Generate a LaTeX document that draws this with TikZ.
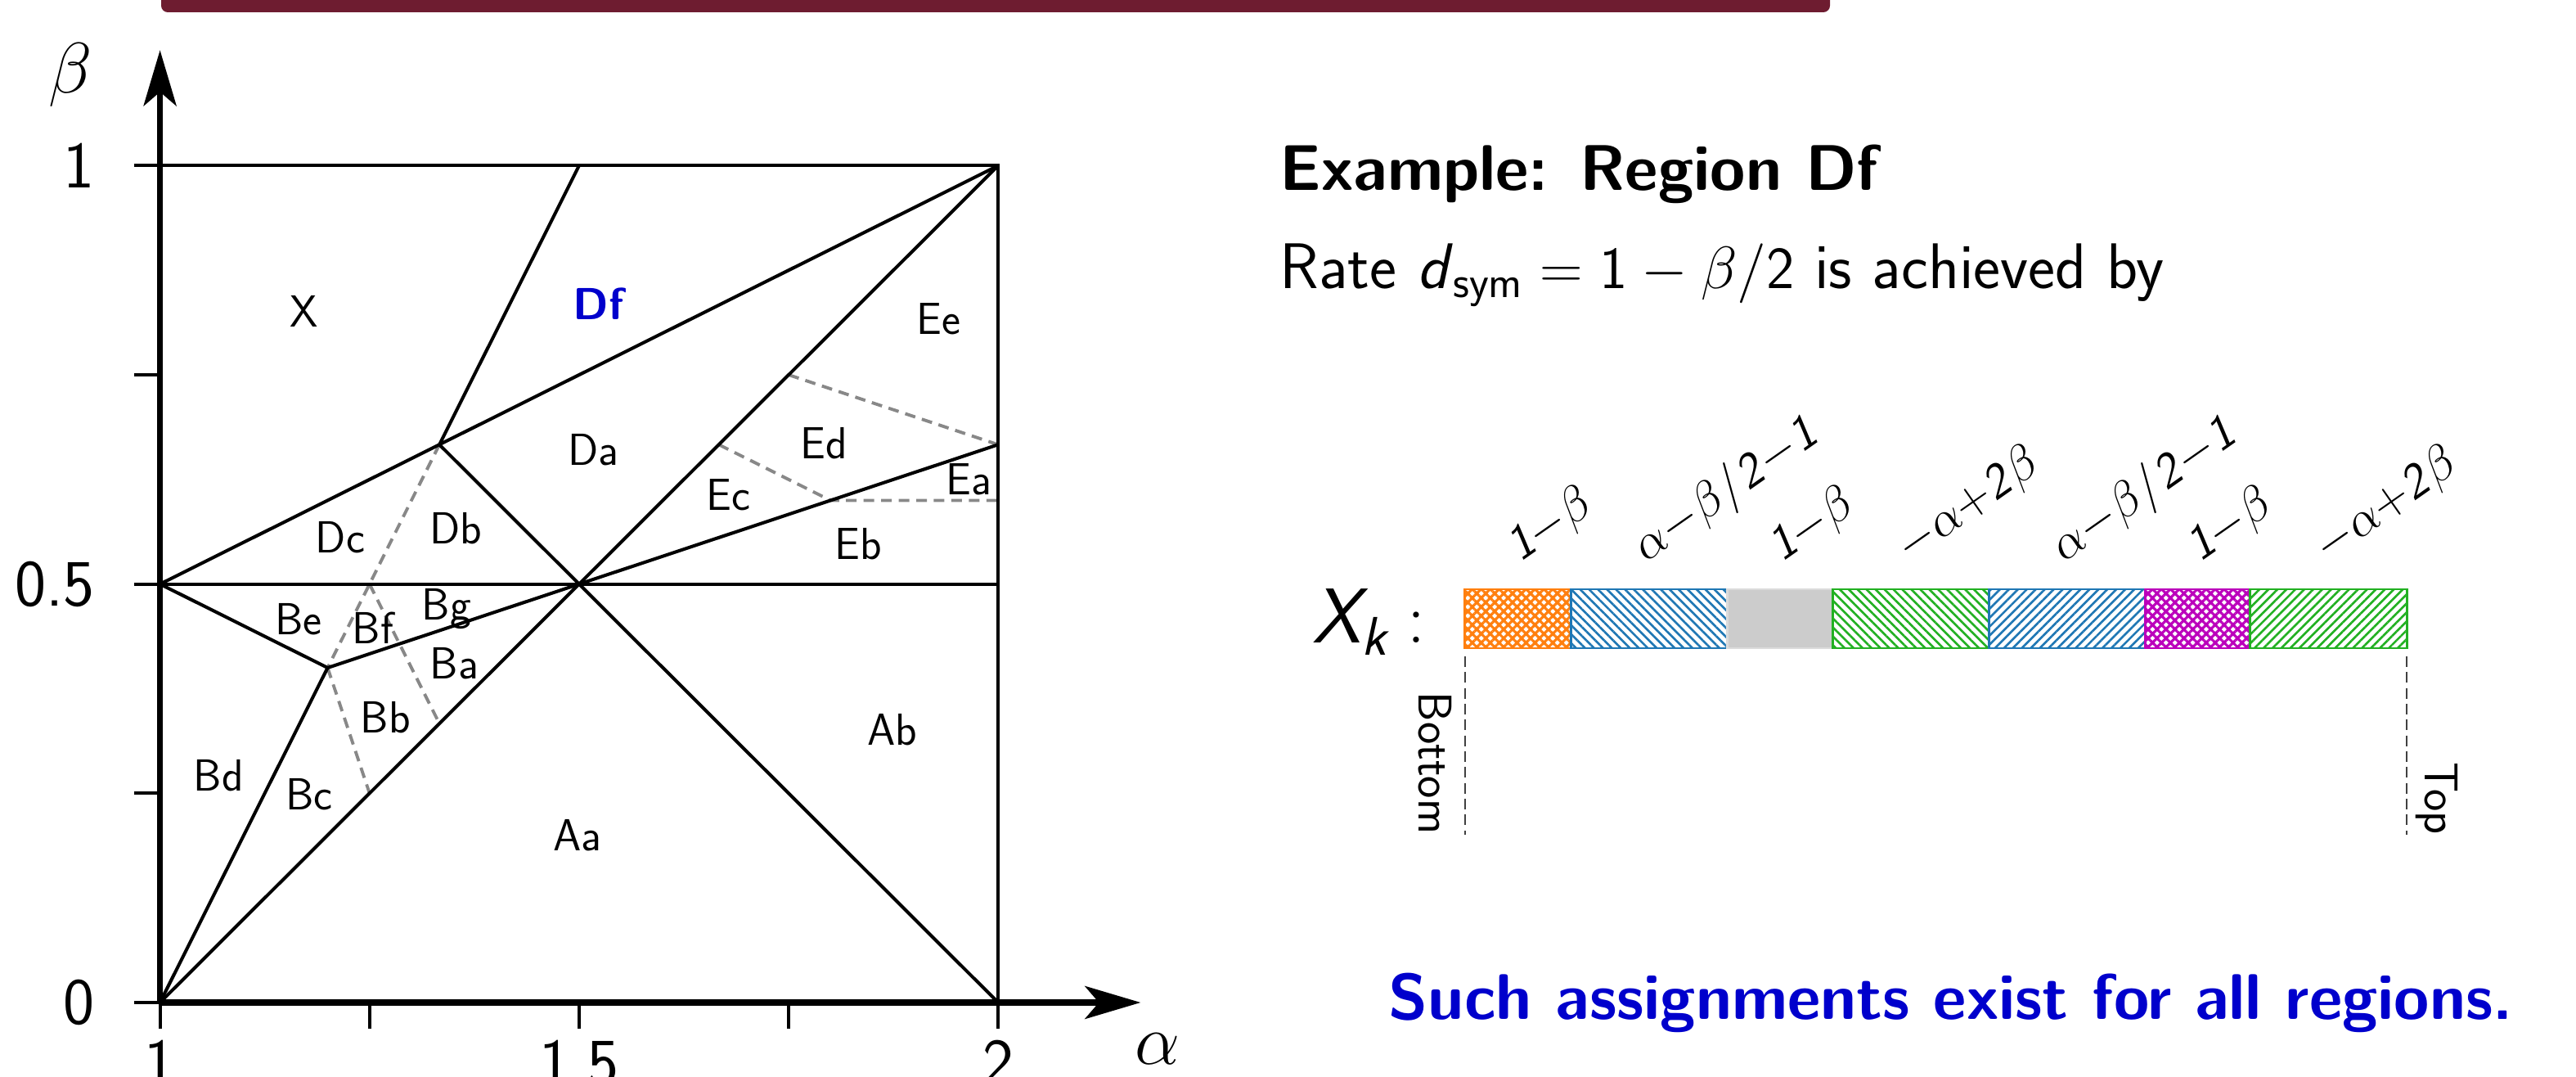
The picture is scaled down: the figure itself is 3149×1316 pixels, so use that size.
\documentclass[tikz,border=0pt]{standalone}
\usepackage{amsmath}
\usetikzlibrary{arrows.meta,patterns.meta}
\definecolor{barred}{HTML}{6E1C30}
\definecolor{regblue}{HTML}{0000CC}
\definecolor{segorange}{HTML}{FF7F0E}
\definecolor{segblue}{HTML}{1F77B4}
\definecolor{seggreen}{HTML}{22B022}
\definecolor{segmag}{HTML}{BB00BB}
\definecolor{seggray}{HTML}{CCCCCC}
\definecolor{dashgray}{HTML}{888888}
\newcommand\fsz[1]{\fontsize{#1}{#1}\selectfont}
\newcommand\slt[1]{\textit{#1}}
\tikzset{
  region/.style={font=\fsz{15.6pt}\sffamily, inner sep=0pt},
  ticklab/.style={font=\fsz{23pt}\sffamily, inner sep=0pt},
  axlab/.style={font=\fsz{29pt}, inner sep=0pt},
  pline/.style={line width=1.15pt},
  dline/.style={dashgray, line width=1.1pt, dash pattern=on 3.7pt off 2.4pt},
  axisline/.style={line width=2pt, -{Stealth[length=6.8mm,width=4mm,inset=1.7mm]}},
  tickline/.style={line width=1.1pt},
  seglab/.style={font=\fsz{17pt}\sffamily, rotate=35, anchor=base west, inner sep=0pt},
  segbox/.style={line width=0.85pt},
  hatchx/.style={pattern={Hatch[angle=45,distance=2.2pt,line width=0.9pt]}},
  linesne/.style={pattern={Lines[angle=45,distance=2.2pt,line width=0.75pt]}},
  linesnw/.style={pattern={Lines[angle=-45,distance=2.2pt,line width=0.75pt]}},
  endline/.style={black!75, line width=0.6pt, dash pattern=on 3.7pt off 1.8pt},
  endlab/.style={font=\fsz{16.5pt}\sffamily, rotate=-90, inner sep=0pt},
  bigtext/.style={font=\fsz{22.4pt}\sffamily, inner sep=0pt, anchor=base west},
}
\begin{document}
\begin{tikzpicture}[x=0.01cm, y=-0.01cm]
\useasboundingbox (0,0) rectangle (3149,1316);
\clip (0,0) rectangle (3149,1316);

% top bar
\fill[barred, rounded corners=2.3pt] (197,-30) rectangle (2237,15);

% ---------------- plot ----------------
\begin{scope}[shift={(-829,1225)}, x=10.24cm, y=10.22cm]
  \coordinate (O) at (1,0);
  \coordinate (P) at (1.5,0.5);
  \coordinate (L) at (1,0.5);
  \coordinate (Q) at (1.2,0.4);
  \coordinate (R) at (4/3,2/3);
  \coordinate (T) at (2,1);
  \coordinate (TL) at (1,1);
  \coordinate (TM) at (1.5,1);
  \coordinate (BR) at (2,0);
  \coordinate (MR) at (2,0.5);
  \coordinate (E1) at (2,2/3);
  \coordinate (S) at (1.8,0.6);
  \coordinate (Mh) at (1.25,0.5);
  \coordinate (Ba1) at (4/3,1/3);
  \coordinate (Bc1) at (1.25,0.25);
  \coordinate (Ec1) at (5/3,2/3);
  \coordinate (Ea1) at (2,0.6);
  \coordinate (Ed1) at (1.75,0.75);
  \coordinate (Ytop) at (1,1.138);
  \coordinate (Xend) at (2.17,0);

  % dashed sub-boundaries
  \draw[dline] (R) -- (Q);
  \draw[dline] (Mh) -- (Ba1);
  \draw[dline] (Q) -- (Bc1);
  \draw[dline] (Ec1) -- (S) -- (Ea1);
  \draw[dline] (Ed1) -- (E1);

  % solid boundaries
  \draw[pline] (TL) -- (T) -- (BR);
  \draw[pline] (L) -- (MR);
  \draw[pline] (L) -- (T);
  \draw[pline] (R) -- (TM);
  \draw[pline] (R) -- (P);
  \draw[pline] (P) -- (T);
  \draw[pline] (P) -- (E1);
  \draw[pline] (O) -- (P);
  \draw[pline] (O) -- (Q);
  \draw[pline] (L) -- (Q) -- (P);
  \draw[pline] (P) -- (BR);

  % ticks
  \foreach \b in {0,0.25,0.5,0.75,1} \draw[tickline] (1-0.031,\b) -- (1,\b);
  \foreach \a in {1,1.25,1.5,1.75,2} \draw[tickline] (\a,0) -- (\a,-0.031);

  % axes
  \draw[axisline] (O) -- (Ytop);
  \draw[axisline] (O) -- (Xend);

  % tick labels
  \node[ticklab, anchor=east] (y1) at (0.923,1) {1};
  \node[ticklab, anchor=east] (y05) at (0.923,0.5) {0.5};
  \node[ticklab, anchor=east] (y0) at (0.923,0) {0};
  \node[ticklab, anchor=north] (x1) at (1,-0.044) {1};
  \node[ticklab, anchor=north] (x15) at (1.5,-0.044) {1.5};
  \node[ticklab, anchor=north] (x2) at (2,-0.044) {2};
  \node[axlab] (blab) at (0.893,1.108) {$\beta$};
  \node[axlab] (alab) at (2.19,-0.055) {$\alpha$};

  % region labels
  \node[region] (rX) at (1.172,0.826) {X};
  \node[region, font=\fsz{15.6pt}\sffamily\bfseries, text=regblue] (rDf) at (1.523,0.835) {Df};
  \node[region] (rEe) at (1.929,0.817) {Ee};
  \node[region] (rDa) at (1.517,0.660) {Da};
  \node[region] (rEd) at (1.792,0.668) {Ed};
  \node[region] (rEc) at (1.678,0.607) {Ec};
  \node[region] (rEa) at (1.965,0.625) {Ea};
  \node[region] (rEb) at (1.833,0.548) {Eb};
  \node[region] (rDc) at (1.215,0.556) {Dc};
  \node[region] (rDb) at (1.353,0.567) {Db};
  \node[region] (rBe) at (1.165,0.458) {Be};
  \node[region] (rBf) at (1.254,0.448) {Bf};
  \node[region] (rBg) at (1.342,0.470) {Bg};
  \node[region] (rBa) at (1.351,0.405) {Ba};
  \node[region] (rBb) at (1.269,0.341) {Bb};
  \node[region] (rBd) at (1.070,0.271) {Bd};
  \node[region] (rBc) at (1.178,0.249) {Bc};
  \node[region] (rAa) at (1.498,0.200) {Aa};
  \node[region] (rAb) at (1.874,0.326) {Ab};
\end{scope}

% ---------------- right side ----------------
\node[bigtext, font=\fsz{22.4pt}\sffamily\bfseries] (ex) at (1564,233) {Example: Region Df};
\node[bigtext] (rate) at (1564,353) {Rate \textit{d}$_{\text{sym}}=\mathsf{1}-\beta/\mathsf{2}$ is achieved by};

\node[font=\fsz{27pt}\sffamily, inner sep=0pt, anchor=base west] (xk) at (1604,785) {$\textit{X}_{\textit{k}}:$};

% bar segments
\coordinate (b0) at (1790,720);
\coordinate (b7) at (2942,792);
\draw[segbox, segorange, hatchx, pattern color=segorange] (1790,720) rectangle (1920,792);
\draw[segbox, segblue, linesnw, pattern color=segblue] (1920,720) rectangle (2111,792);
\draw[segbox, seggray!70, fill=seggray] (2111,720) rectangle (2240,792);
\draw[segbox, seggreen, linesnw, pattern color=seggreen] (2240,720) rectangle (2431,792);
\draw[segbox, segblue, linesne, pattern color=segblue] (2431,720) rectangle (2622,792);
\draw[segbox, segmag, hatchx, pattern color=segmag] (2622,720) rectangle (2750,792);
\draw[segbox, seggreen, linesne, pattern color=seggreen] (2750,720) rectangle (2942,792);

% labels above segments
\node[seglab] (l1) at (1858,688) {\slt{1}${-}\beta$};
\node[seglab] (l2) at (2012,688) {$\alpha{-}\beta/$\slt{2}${-}$\slt{1}};
\node[seglab] (l3) at (2178,688) {\slt{1}${-}\beta$};
\node[seglab] (l4) at (2333,688) {${-}\alpha{+}$\slt{2}$\beta$};
\node[seglab] (l5) at (2523,688) {$\alpha{-}\beta/$\slt{2}${-}$\slt{1}};
\node[seglab] (l6) at (2689,688) {\slt{1}${-}\beta$};
\node[seglab] (l7) at (2844,688) {${-}\alpha{+}$\slt{2}$\beta$};

% end markers
\coordinate (botA) at (1791,802);
\coordinate (botB) at (1791,1020);
\coordinate (topA) at (2942,802);
\coordinate (topB) at (2942,1020);
\draw[endline] (botA) -- (botB);
\draw[endline] (topA) -- (topB);
\node[endlab, anchor=north east] (bot) at (1775,1020) {Bottom};
\node[endlab, anchor=south east] (top) at (2952,1020) {Top};

\node[bigtext, font=\fsz{22.4pt}\sffamily\bfseries, text=regblue] (such) at (1697,1245) {Such assignments exist for all regions.};
\end{tikzpicture}
\end{document}
